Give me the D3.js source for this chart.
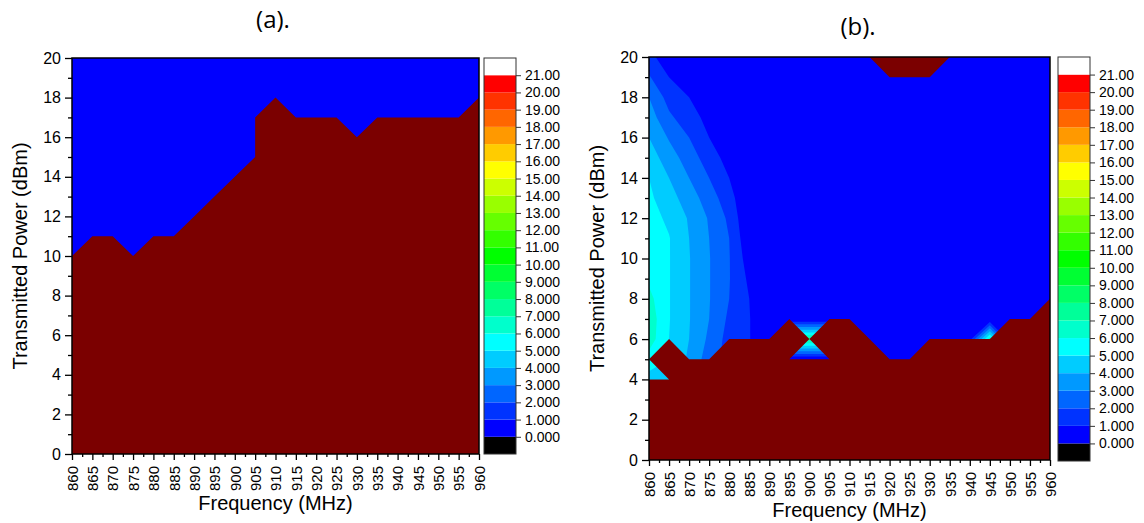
<!DOCTYPE html>
<html>
<head>
<meta charset="utf-8">
<script src="https://cdn.jsdelivr.net/npm/d3@7"></script>
<style>
  body { margin: 0; background: #fff; }
  svg { display: block; }
  text { font-family: "Liberation Sans", Arial, sans-serif; fill: #000; }
  .title { font-family: "Open Sans", "Liberation Sans", sans-serif; }
</style>
</head>
<body>
<svg id="chart" width="1144" height="523"></svg>
<script>
// ---- data ----
const freqs = [860, 865, 870, 875, 880, 885, 890, 895, 900, 905, 910,
               915, 920, 925, 930, 935, 940, 945, 950, 955, 960];
const powerTicks = [0, 2, 4, 6, 8, 10, 12, 14, 16, 18, 20];
const levelLabels = ['0.000', '1.000', '2.000', '3.000', '4.000', '5.000', '6.000',
                     '7.000', '8.000', '9.000', '10.00', '11.00', '12.00', '13.00',
                     '14.00', '15.00', '16.00', '17.00', '18.00', '19.00', '20.00', '21.00'];
// colour of each band [i, i+1]
const levelColors = ['#0000ff', '#0033ff', '#0066ff', '#0099ff', '#00ccff', '#00ffff',
                     '#00ffcc', '#00ff99', '#00ff66', '#00ff33', '#00ff00', '#33ff00',
                     '#66ff00', '#99ff00', '#ccff00', '#ffff00', '#ffcc00', '#ff9900',
                     '#ff6600', '#ff3300', '#ff0000'];
const belowColor = '#000000';
const aboveColor = '#ffffff';
const failColor = '#7b0000';

// (a) edge of the dark red region: [frequency, power]
const aEdge = [[860, 10], [865, 11], [870, 11], [875, 10], [880, 11], [885, 11],
               [890, 12], [895, 13], [900, 14], [905, 15], [905, 17], [910, 18],
               [915, 17], [920, 17], [925, 17], [930, 16], [935, 17], [940, 17],
               [945, 17], [950, 17], [955, 17], [960, 18]];

// (b) lower dark red region edge and the small top one
const bLowEdge = [[860, 4], [865, 4], [860, 5], [865, 6], [870, 5], [875, 5], [880, 6],
                  [885, 6], [890, 6], [895, 7], [900, 6], [895, 5], [905, 5], [900, 6],
                  [905, 7], [910, 7], [915, 6], [920, 5], [925, 5], [930, 6], [935, 6],
                  [940, 6], [945, 6], [950, 7], [955, 7], [960, 8]];
const bTopEdge = [[915, 20], [920, 19], [930, 19], [935, 20]];

// (b) value grid, rows from 20 dBm down to 0 dBm, columns = freqs
const bGrid = [
  [1.3, 0.4, 0,   0,   0,   0,   0, 0,   0,   0,   0, 0, 0, 0, 0, 0, 0,   0,   0, 0, 0],
  [2.1, 1.0, 0.5, 0,   0,   0,   0, 0,   0,   0,   0, 0, 0, 0, 0, 0, 0,   0,   0, 0, 0],
  [3.0, 1.6, 1.0, 0.3, 0,   0,   0, 0,   0,   0,   0, 0, 0, 0, 0, 0, 0,   0,   0, 0, 0],
  [3.5, 2.2, 1.4, 0.7, 0,   0,   0, 0,   0,   0,   0, 0, 0, 0, 0, 0, 0,   0,   0, 0, 0],
  [4.0, 2.9, 2.0, 1.0, 0.2, 0,   0, 0,   0,   0,   0, 0, 0, 0, 0, 0, 0,   0,   0, 0, 0],
  [4.5, 3.5, 2.5, 1.5, 0.6, 0,   0, 0,   0,   0,   0, 0, 0, 0, 0, 0, 0,   0,   0, 0, 0],
  [5.0, 4.0, 3.0, 2.0, 1.0, 0,   0, 0,   0,   0,   0, 0, 0, 0, 0, 0, 0,   0,   0, 0, 0],
  [5.2, 4.4, 3.5, 2.5, 1.4, 0,   0, 0,   0,   0,   0, 0, 0, 0, 0, 0, 0,   0,   0, 0, 0],
  [5.4, 4.8, 3.9, 2.9, 1.8, 0,   0, 0,   0,   0,   0, 0, 0, 0, 0, 0, 0,   0,   0, 0, 0],
  [5.5, 5.05,4.0, 3.0, 2.0, 0.2, 0, 0,   0,   0,   0, 0, 0, 0, 0, 0, 0,   0,   0, 0, 0],
  [5.6, 5.05,4.05,3.05,2.05,0.5, 0, 0,   0,   0,   0, 0, 0, 0, 0, 0, 0,   0,   0, 0, 0],
  [5.8, 5.05,4.05,3.05,2.05,0.8, 0, 0,   0,   0,   0, 0, 0, 0, 0, 0, 0,   0,   0, 0, 0],
  [6.3, 5.05,4.05,3.05,2.0, 1.0, 0, 0,   0,   0,   0, 0, 0, 0, 0, 0, 0,   0,   0, 0, 0],
  [6.6, 5.05,4.05,3.0, 1.8, 1.05,0, 0,   0,   0,   0, 0, 0, 0, 0, 0, 0,   0,   0, 0, 0],
  [6.5, 5.0, 4.0, 2.8, 1.6, 1.05,0, 7.5, 7.5, 7.5, 0, 0, 0, 0, 0, 0, 0.5, 6.5, 0, 0, 0],
  [5.6, 5.0, 3.8, 2.5, 1.6, 1.0, 0, 0,   0,   0,   0, 0, 0, 0, 0, 0, 0,   0,   0, 0, 0],
  [4.6, 4.5, 3.8, 2.5, 1.6, 1.0, 0, 0,   0,   0,   0, 0, 0, 0, 0, 0, 0,   0,   0, 0, 0],
  [4.6, 4.5, 3.8, 2.5, 1.6, 1.0, 0, 0,   0,   0,   0, 0, 0, 0, 0, 0, 0,   0,   0, 0, 0],
  [4.6, 4.5, 3.8, 2.5, 1.6, 1.0, 0, 0,   0,   0,   0, 0, 0, 0, 0, 0, 0,   0,   0, 0, 0],
  [4.6, 4.5, 3.8, 2.5, 1.6, 1.0, 0, 0,   0,   0,   0, 0, 0, 0, 0, 0, 0,   0,   0, 0, 0],
  [4.6, 4.5, 3.8, 2.5, 1.6, 1.0, 0, 0,   0,   0,   0, 0, 0, 0, 0, 0, 0,   0,   0, 0, 0]
];

// ---- layout ----
const panels = [
  { id: 'a', title: '(a).', titleX: 273, titleY: 28,
    plot: { left: 72, right: 479, top: 58, bottom: 454 },
    bar: { left: 484, right: 516, top: 58, bottom: 454 },
    yLabelX: 27, xLabelY: 510 },
  { id: 'b', title: '(b).', titleX: 858, titleY: 35,
    plot: { left: 649, right: 1050, top: 57, bottom: 460 },
    bar: { left: 1058, right: 1090, top: 57, bottom: 461 },
    yLabelX: 604, xLabelY: 517 }
];

const svg = d3.select('#chart');
const defs = svg.append('defs');

function drawPanel(p, drawData) {
  const g = svg.append('g');
  const x = d3.scaleLinear().domain([860, 960]).range([p.plot.left, p.plot.right]);
  const y = d3.scaleLinear().domain([0, 20]).range([p.plot.bottom, p.plot.top]);

  defs.append('clipPath').attr('id', 'clip-' + p.id)
    .append('rect')
    .attr('x', p.plot.left).attr('y', p.plot.top)
    .attr('width', p.plot.right - p.plot.left)
    .attr('height', p.plot.bottom - p.plot.top);

  const area = g.append('g').attr('clip-path', `url(#clip-${p.id})`);
  area.append('rect')
    .attr('x', p.plot.left).attr('y', p.plot.top)
    .attr('width', p.plot.right - p.plot.left)
    .attr('height', p.plot.bottom - p.plot.top)
    .attr('fill', levelColors[0]);

  drawData(area, x, y);

  // frame
  g.append('rect')
    .attr('x', p.plot.left).attr('y', p.plot.top)
    .attr('width', p.plot.right - p.plot.left)
    .attr('height', p.plot.bottom - p.plot.top)
    .attr('fill', 'none').attr('stroke', '#000').attr('stroke-width', 1.5);

  // y axis
  const yAxis = g.append('g').attr('transform', `translate(${p.plot.left},0)`)
    .call(d3.axisLeft(y).tickValues(powerTicks).tickSize(7).tickPadding(4));
  g.append('g').attr('transform', `translate(${p.plot.left},0)`)
    .call(d3.axisLeft(y).tickValues(d3.range(1, 20, 2)).tickSize(4).tickFormat(''));

  // x axis
  const xAxis = g.append('g').attr('transform', `translate(0,${p.plot.bottom})`)
    .call(d3.axisBottom(x).tickValues(freqs).tickSize(6));
  g.append('g').attr('transform', `translate(0,${p.plot.bottom})`)
    .call(d3.axisBottom(x).tickValues(d3.range(862.5, 960, 5)).tickSize(3).tickFormat(''));
  xAxis.selectAll('text')
    .attr('transform', 'rotate(-90)')
    .attr('text-anchor', 'end')
    .attr('x', -12).attr('y', 0).attr('dy', '0.35em');

  g.selectAll('.domain').remove();
  g.selectAll('.tick line').attr('stroke', '#000').attr('stroke-width', 1.3);
  yAxis.selectAll('text').style('font-size', '16px');
  xAxis.selectAll('text').style('font-size', '15px');

  // axis titles
  g.append('text')
    .attr('transform', `translate(${p.yLabelX},${(p.plot.top + p.plot.bottom) / 2}) rotate(-90)`)
    .attr('text-anchor', 'middle')
    .style('font-size', '20px')
    .text('Transmitted Power (dBm)');
  g.append('text')
    .attr('x', (p.plot.left + p.plot.right) / 2).attr('y', p.xLabelY)
    .attr('text-anchor', 'middle')
    .style('font-size', '20px')
    .text('Frequency (MHz)');

  g.append('text').attr('class', 'title')
    .attr('x', p.titleX).attr('y', p.titleY)
    .attr('text-anchor', 'middle')
    .style('font-size', '24px')
    .text(p.title);

  // colour bar
  const c = d3.scaleLinear().domain([-1, 22]).range([p.bar.bottom, p.bar.top]);
  const segs = [{ lo: -1, color: belowColor }]
    .concat(levelColors.map((col, i) => ({ lo: i, color: col })))
    .concat([{ lo: 21, color: aboveColor }]);
  const bar = g.append('g');
  bar.selectAll('rect.seg').data(segs).join('rect')
    .attr('class', 'seg')
    .attr('x', p.bar.left).attr('width', p.bar.right - p.bar.left)
    .attr('y', d => c(d.lo + 1)).attr('height', d => c(d.lo) - c(d.lo + 1))
    .attr('fill', d => d.color);
  bar.append('rect')
    .attr('x', p.bar.left).attr('y', p.bar.top)
    .attr('width', p.bar.right - p.bar.left).attr('height', p.bar.bottom - p.bar.top)
    .attr('fill', 'none').attr('stroke', '#333').attr('stroke-width', 1);
  const barAxis = bar.append('g').attr('transform', `translate(${p.bar.right},0)`)
    .call(d3.axisRight(c).tickValues(d3.range(0, 22)).tickSize(5).tickPadding(4)
      .tickFormat((d, i) => levelLabels[i]));
  barAxis.select('.domain').remove();
  barAxis.selectAll('.tick line').attr('stroke', '#333');
  barAxis.selectAll('text').style('font-size', '14px');
}

// (a): single failure boundary
drawPanel(panels[0], (area, x, y) => {
  area.append('path')
    .datum(aEdge)
    .attr('fill', failColor)
    .attr('d', d3.area().x(d => x(d[0])).y0(y(0)).y1(d => y(d[1])));
});

// (b): contour bands plus failure regions
drawPanel(panels[1], (area, x, y) => {
  const nx = freqs.length, ny = bGrid.length;
  const values = new Array(nx * ny);
  for (let r = 0; r < ny; r++) {
    const power = ny - 1 - r;
    for (let k = 0; k < nx; k++) values[power * nx + k] = bGrid[r][k];
  }
  const step = freqs[1] - freqs[0];
  const proj = d3.geoTransform({
    point(gx, gy) {
      this.stream.point(x(freqs[0] + (gx - 0.5) * step), y(gy - 0.5));
    }
  });
  const path = d3.geoPath(proj);
  const bands = d3.contours().size([nx, ny]).thresholds(d3.range(1, 21))(values);
  area.selectAll('path.band').data(bands).join('path')
    .attr('class', 'band')
    .attr('d', path)
    .attr('fill', d => levelColors[d.value]);

  const line = d3.line().x(d => x(d[0])).y(d => y(d[1]));
  area.append('path')
    .datum([[860, 0], ...bLowEdge, [960, 0]])
    .attr('fill', failColor)
    .attr('d', d => line(d) + 'Z');
  area.append('path')
    .datum(bTopEdge)
    .attr('fill', failColor)
    .attr('d', d => line(d) + 'Z');
});
</script>
</body>
</html>
